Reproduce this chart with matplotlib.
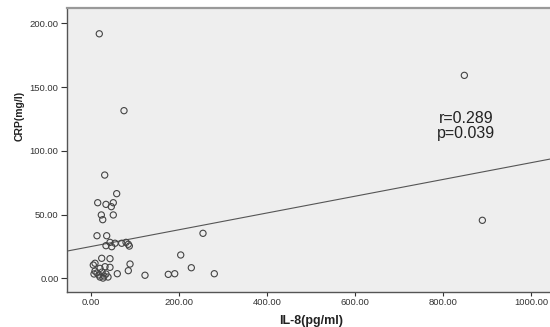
import numpy as np
import matplotlib.pyplot as plt

plt.rcParams['font.family'] = ['Liberation Sans', 'DejaVu Sans']

# IL-8 (pg/ml) and CRP (mg/l) values
il8 = [19.5, 75.6, 31.8, 848.5, 889.4, 59.0, 15.9, 34.7, 51.3, 46.8,
       24.1, 27.3, 51.3, 14.3, 36.3, 255.0, 34.7, 43.8, 47.7, 55.2,
       70.4, 80.2, 85.4, 87.7, 204.4, 25.0, 43.8, 9.8, 89.3, 228.5,
       85.4, 60.4, 123.3, 176.2, 190.8, 280.7, 5.9, 32.5, 43.8, 21.1,
       9.8, 14.3, 18.9, 25.7, 30.2, 34.7, 21.1, 39.3, 7.5, 27.9]
crp = [191.8, 131.5, 81.0, 159.2, 45.5, 66.4, 59.3, 58.0, 59.3, 56.2,
       49.7, 46.0, 49.7, 33.4, 33.4, 35.3, 25.6, 28.2, 24.8, 27.5,
       27.5, 28.2, 26.7, 25.3, 18.3, 15.7, 15.4, 11.8, 11.2, 8.3,
       6.0, 3.6, 2.4, 3.1, 3.6, 3.6, 10.4, 9.1, 8.6, 7.8,
       5.7, 4.2, 2.6, 4.9, 1.8, 3.4, 1.0, 1.0, 3.4, 0.2]

# linear fit line shown in the chart
fit_intercept = 24.9
fit_slope = 0.0658

x_ticks = [0, 200, 400, 600, 800, 1000]
y_ticks = [0, 50, 100, 150, 200]
stats_text = "r=0.289\np=0.039"

fig = plt.figure(figsize=(5.5, 3.27), dpi=100)
ax = fig.add_axes([66.7 / 550, (327 - 291.7) / 327, (550 - 66.7) / 550, (291.7 - 8.3) / 327])
ax.set_facecolor('#EEEEEE')

ax.scatter(il8, crp, s=20, facecolors='none', edgecolors='#444444', linewidths=0.8, zorder=3)

xs = np.array([-60, 1100])
ax.plot(xs, fit_intercept + fit_slope * xs, color='#555555', linewidth=0.8, zorder=2)

ax.text(852, 119.5, stats_text, ha='center', va='center', fontsize=11.5,
        linespacing=0.95, color='#222222')

ax.set_xlim(-54.5, 1043)
ax.set_ylim(-10.5, 211.8)
ax.set_xticks(x_ticks)
ax.set_yticks(y_ticks)
ax.set_xticklabels([f"{v:.2f}" for v in x_ticks])
ax.set_yticklabels([f"{v:.2f}" for v in y_ticks])
ax.tick_params(axis='x', length=2.7, width=0.8, pad=1.5, labelsize=6.8, colors='#333333')
ax.tick_params(axis='y', length=4.3, width=0.8, pad=1.5, labelsize=6.8, colors='#333333')

for side in ['left', 'bottom']:
    ax.spines[side].set_color('#555555')
    ax.spines[side].set_linewidth(1.0)
ax.spines['top'].set_color('#999999')
ax.spines['top'].set_linewidth(1.6)
ax.spines['right'].set_visible(False)

ax.set_xlabel("IL-8(pg/ml)", fontsize=9, fontweight='bold', color='#222222')
ax.set_ylabel("CRP(mg/l)", fontsize=7.5, fontweight='bold', color='#222222')
ax.xaxis.set_label_coords(0.505, -0.082)
ax.yaxis.set_label_coords(-0.088, 0.62)

plt.savefig("out.png", dpi=100)
